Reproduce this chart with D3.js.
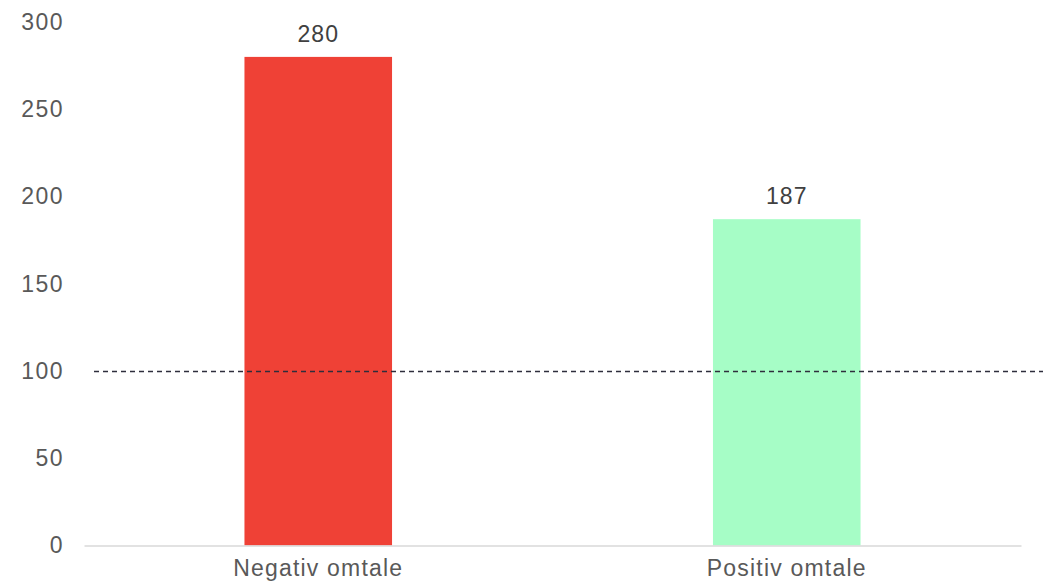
<!DOCTYPE html>
<html>
<head>
<meta charset="utf-8">
<script src="https://cdn.jsdelivr.net/npm/d3@7"></script>
<style>
html,body{margin:0;padding:0;background:#fff;}
svg{display:block;}
text{font-family:"Liberation Sans",Arial,sans-serif;}
</style>
</head>
<body>
<svg id="chart" width="1043" height="584"></svg>
<script>
const categories = ["Negativ omtale", "Positiv omtale"];
const values = [280, 187];
const barColors = ["#ef4136", "#a6fdc6"];
const yTicks = [0, 50, 100, 150, 200, 250, 300];
const referenceValue = 100;

const svg = d3.select("#chart");
const W = 1043, H = 584;

const x = d3.scaleBand().domain(categories).range([84, 1021]).paddingInner(0.685).paddingOuter(0.3425);
const y = d3.scaleLinear().domain([0, 300]).range([545.5, 22]);

// y axis labels (no line)
const yAxis = d3.axisLeft(y).tickValues(yTicks).tickSize(0).tickPadding(0);
const gy = svg.append("g").attr("transform", "translate(64,0)").call(yAxis);
gy.select(".domain").remove();
gy.selectAll("text").attr("font-size", "23px").attr("fill", "#595959")
  .attr("font-family", "'Liberation Sans', Arial, sans-serif").attr("letter-spacing", "1.5px");

// bars
svg.append("g").selectAll("rect").data(values).join("rect")
  .attr("x", (d, i) => x(categories[i]))
  .attr("y", d => y(d))
  .attr("width", x.bandwidth())
  .attr("height", d => y(0) - y(d))
  .attr("fill", (d, i) => barColors[i]);

// x axis
const xAxis = d3.axisBottom(x).tickSize(0).tickPadding(14);
const gx = svg.append("g").attr("transform", `translate(0,${y(0)})`).call(xAxis);
gx.select(".domain").attr("stroke", "#d9d9d9").attr("stroke-width", 1.5);
gx.selectAll("text").attr("font-size", "23px").attr("fill", "#595959")
  .attr("font-family", "'Liberation Sans', Arial, sans-serif").attr("letter-spacing", "1.2px");

// reference dashed line
svg.append("line")
  .attr("x1", 94).attr("x2", W)
  .attr("y1", y(referenceValue) + 0.5).attr("y2", y(referenceValue) + 0.5)
  .attr("stroke", "#2e2e3c").attr("stroke-width", 1.3)
  .attr("stroke-dasharray", "5,4");

// value labels
svg.append("g").selectAll("text").data(values).join("text")
  .attr("x", (d, i) => x(categories[i]) + x.bandwidth() / 2)
  .attr("y", d => y(d) - 15)
  .attr("text-anchor", "middle")
  .attr("font-size", "23px")
  .attr("fill", "#404040")
  .attr("letter-spacing", "1px")
  .text(d => d);
</script>
</body>
</html>
